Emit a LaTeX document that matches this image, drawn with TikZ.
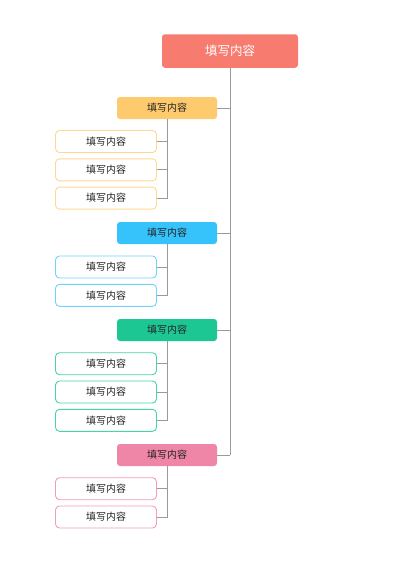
\documentclass[tikz,border=0pt]{standalone}
\usepackage{fontspec}
\usepackage{xcolor}
\usetikzlibrary{positioning}
\newfontfamily\cjk{Noto Sans CJK SC}
\definecolor{rootred}{HTML}{F77B6E}
\definecolor{catyellow}{HTML}{FDCB6E}
\definecolor{catblue}{HTML}{36C2FB}
\definecolor{catgreen}{HTML}{1DC794}
\definecolor{catpink}{HTML}{EF86A8}
\definecolor{linegray}{HTML}{9A9A9A}
\definecolor{textgray}{HTML}{222222}
\tikzstyle{root}=[
        fill = rootred,
        text = white,
        rounded corners = 3pt,
        minimum width = 136pt,
        minimum height = 33.5pt,
        font = \cjk\fontsize{12.5}{14}\selectfont
    ]
\tikzstyle{cat}=[
    rounded corners = 3pt,
    text = textgray,
    minimum width = 100pt,
    minimum height = 22pt,
    font = \cjk\fontsize{10}{12}\selectfont
]
\tikzstyle{item}=[
    draw,
    line width = 0.9pt,
    fill = white,
    text = textgray,
    rounded corners = 4pt,
    minimum width = 101pt,
    minimum height = 22pt,
    font = \cjk\fontsize{10}{12}\selectfont
]

\begin{document}
\begin{tikzpicture}[x=1pt, y=1pt, node distance = {28.3pt}, link/.style = {draw = linegray, line width = 0.8pt}]
        \useasboundingbox (0,0) rectangle (400,-566);
        \node[root] (top) at (230,-51) {填写内容};

        \node[cat, fill = catyellow] (c1) at (167,-108) {填写内容};
        \node[item, draw = catyellow!75] (c1a) at (106,-141.5) {填写内容};
        \node[item, draw = catyellow!75] (c1b) [below of = c1a] {填写内容};
        \node[item, draw = catyellow!75] (c1c) [below of = c1b] {填写内容};

        \node[cat, fill = catblue] (c2) at (167,-233) {填写内容};
        \node[item, draw = catblue!70] (c2a) at (106,-267) {填写内容};
        \node[item, draw = catblue!70] (c2b) [below of = c2a] {填写内容};

        \node[cat, fill = catgreen] (c3) at (167,-330) {填写内容};
        \node[item, draw = catgreen!80] (c3a) at (106,-363.7) {填写内容};
        \node[item, draw = catgreen!80] (c3b) [below of = c3a] {填写内容};
        \node[item, draw = catgreen!80] (c3c) [below of = c3b] {填写内容};

        \node[cat, fill = catpink] (c4) at (167,-455) {填写内容};
        \node[item, draw = catpink!80] (c4a) at (106,-488.7) {填写内容};
        \node[item, draw = catpink!80] (c4b) [below of = c4a] {填写内容};

        % trunk and branches
        \draw[link] (top.south) -- (top.south |- c4.east);
        \draw[link] (c1.east) -- (c1.east -| top.south);
        \draw[link] (c2.east) -- (c2.east -| top.south);
        \draw[link] (c3.east) -- (c3.east -| top.south);
        \draw[link] (c4.east) -- (c4.east -| top.south);

        % leaves
        \draw[link] (c1a.east) -| (c1.south);
        \draw[link] (c1b.east) -| (c1.south);
        \draw[link] (c1c.east) -| (c1.south);
        \draw[link] (c2a.east) -| (c2.south);
        \draw[link] (c2b.east) -| (c2.south);
        \draw[link] (c3a.east) -| (c3.south);
        \draw[link] (c3b.east) -| (c3.south);
        \draw[link] (c3c.east) -| (c3.south);
        \draw[link] (c4a.east) -| (c4.south);
        \draw[link] (c4b.east) -| (c4.south);

    \end{tikzpicture}
\end{document}
